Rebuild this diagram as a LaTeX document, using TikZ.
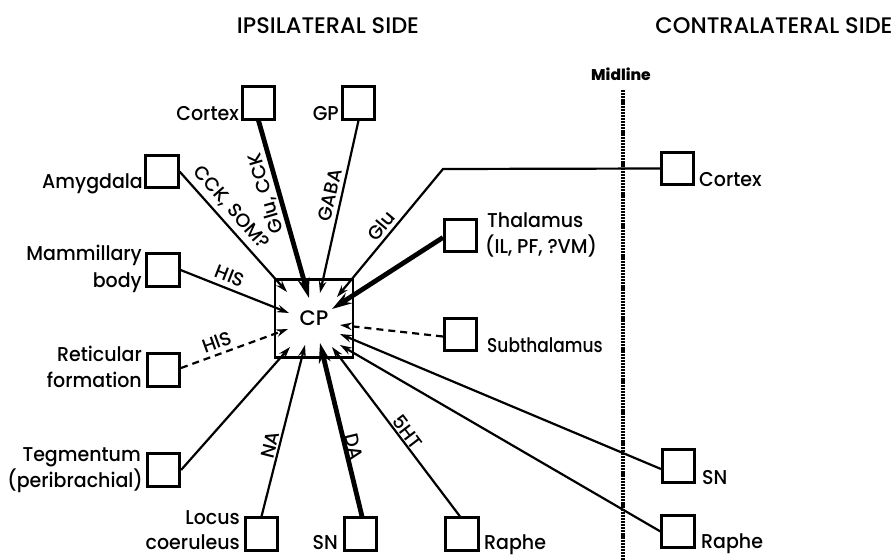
\documentclass[tikz,border=0pt]{standalone}
\usepackage{fontspec}
\setmainfont{Poppins}[UprightFont=* Medium]
\newfontfamily\lblfont{Poppins}[UprightFont=* Medium, FakeStretch=0.95]
\newfontfamily\narrowlblfont{Poppins}[UprightFont=* Medium, FakeStretch=0.85]
\usetikzlibrary{arrows.meta}
\begin{document}
\begin{tikzpicture}[x=1pt,y=-1pt,
  bx/.style={draw, line width=2.6pt, minimum size=32.5pt, inner sep=0pt},
  lbl/.style={font=\lblfont\fontsize{20}{26}\selectfont, inner sep=0pt},
  tag/.style={font=\fontsize{19}{22}\selectfont, inner sep=0pt},
  ttl/.style={font=\fontsize{22.5}{26}\selectfont, inner sep=0pt},
  conn/.style={line width=2.2pt, -{Stealth[length=12pt,width=7.5pt]}},
  dconn/.style={conn, dash pattern=on 7pt off 5pt},
  heavy/.style={line width=4.8pt, -{Stealth[length=20pt,width=12pt]}}]
\useasboundingbox (0,0) rectangle (895,560);

% titles
\node[ttl, anchor=base] (tipsi) at (328,33) {IPSILATERAL SIDE};
\node[ttl, anchor=base] (tcontra) at (774,33) {CONTRALATERAL SIDE};
\node[font=\fontsize{15.5}{18}\selectfont\bfseries, inner sep=0pt, anchor=base] (mid) at (621,80) {Midline};
\coordinate (mtop) at (623,90);
\coordinate (mbot) at (623,560);
\draw[line width=3.4pt, dash pattern=on 2.2pt off 0.9pt] (mtop) -- (mbot);

% central box
\node[bx, minimum size=78pt, font=\fontsize{21}{24}\selectfont] (cp) at (314,318.5) {CP};

% source boxes
\node[bx] (ctx) at (258.5,103) {};
\node[bx] (gp)  at (358.5,103) {};
\node[bx] (amy) at (162,171.5) {};
\node[bx] (mam) at (163,270) {};
\node[bx] (ret) at (163.5,370) {};
\node[bx] (teg) at (163.5,470) {};
\node[bx] (loc) at (261.5,534) {};
\node[bx] (snb) at (360.5,534) {};
\node[bx] (rab) at (462,534) {};
\node[bx] (tha) at (460.5,235.5) {};
\node[bx] (ctr) at (677.5,168.5) {};
\node[bx] (sub) at (460.5,334.5) {};
\node[bx] (snr) at (678.5,466) {};
\node[bx] (rar) at (678,531.5) {};

% box labels
\node[lbl, anchor=base east] (lctx) at (239,120) {Cortex};
\node[lbl, anchor=base east] (lgp) at (339,120) {GP};
\node[lbl, anchor=base east] (lamy) at (143,188) {Amygdala};
\node[lbl, anchor=base east] (lmam1) at (142,260) {Mammillary};
\node[lbl, anchor=base east] (lmam2) at (142,287) {body};
\node[lbl, anchor=base east] (lret1) at (142,361) {Reticular};
\node[lbl, anchor=base east] (lret2) at (142,387) {formation};
\node[lbl, anchor=base east] (lteg1) at (141,461) {Tegmentum};
\node[lbl, anchor=base east] (lteg2) at (143,487) {(peribrachial)};
\node[lbl, anchor=base east] (lloc1) at (240,524) {Locus};
\node[lbl, anchor=base east] (lloc2) at (240,549) {coeruleus};
\node[lbl, anchor=base east] (lsnb) at (338,549) {SN};
\node[lbl, anchor=base west] (lrab) at (484,549) {Raphe};
\node[lbl, anchor=base west] (ltha1) at (487,227) {Thalamus};
\node[lbl, anchor=base west] (ltha2) at (485,253) {(IL, PF, ?VM)};
\node[lbl, anchor=base west] (lctr) at (699,186) {Cortex};
\node[lbl, font=\narrowlblfont\fontsize{20}{26}\selectfont, anchor=base west] (lsub) at (487,352) {Subthalamus};
\node[lbl, anchor=base west] (lsnr) at (702,484) {SN};
\node[lbl, anchor=base west] (lrar) at (701,548) {Raphe};

% arrow tips inside CP
\coordinate (tamy) at (287,292);
\coordinate (tctx) at (309,298);
\coordinate (tgp)  at (320,293);
\coordinate (tglu) at (337,297);
\coordinate (ttha) at (332,309);
\coordinate (tmam) at (289,313);
\coordinate (tret) at (288,329);
\coordinate (tsub) at (340,325);
\coordinate (tsnr) at (340,334);
\coordinate (trar) at (340,345);
\coordinate (tteg) at (290,347);
\coordinate (tloc) at (305,345);
\coordinate (tsnb) at (320,343);
\coordinate (trab) at (332,347);
\coordinate (corner) at (443,169);

% connectors
\draw[conn] (amy.east) -- (tamy);
\draw[heavy] (ctx.south) -- (tctx);
\draw[conn] (gp.south) -- (tgp);
\draw[conn] (ctr.west) -- (corner) -- (tglu);
\draw[heavy] ([yshift=-2pt]tha.west) -- (ttha);
\draw[conn] (mam.east) -- (tmam);
\draw[dconn] ([yshift=2pt]ret.east) -- (tret);
\draw[dconn] ([yshift=-2pt]sub.west) -- (tsub);
\draw[conn] ([yshift=-3pt]snr.west) -- (tsnr);
\draw[conn] (rar.west) -- (trar);
\draw[conn] (teg.east) -- (tteg);
\draw[conn] (loc.north) -- (tloc);
\draw[heavy] ([xshift=1.5pt]snb.north) -- (tsnb);
\draw[conn] ([xshift=-2pt]rab.north) -- (trab);

% transmitter tags
\node[tag, rotate=-48.7] (gamy) at (231,208) {CCK, SOM?};
\node[tag, rotate=106.2] (gctx) at (266,193) {Glu, CCK};
\node[tag, rotate=77.2] (ggp) at (330,195) {GABA};
\node[tag, rotate=50] (gglu) at (381,226) {Glu};
\node[tag, rotate=-21.4] (gmam) at (230,276) {HIS};
\node[tag, rotate=19.9] (gret) at (217,342) {HIS};
\node[tag, rotate=75.5] (gloc) at (270,445) {NA};
\node[tag, rotate=-76.3] (gsnb) at (354,447) {DA};
\node[tag, rotate=-52.7] (grab) at (408,432) {5HT};
\end{tikzpicture}
\end{document}
